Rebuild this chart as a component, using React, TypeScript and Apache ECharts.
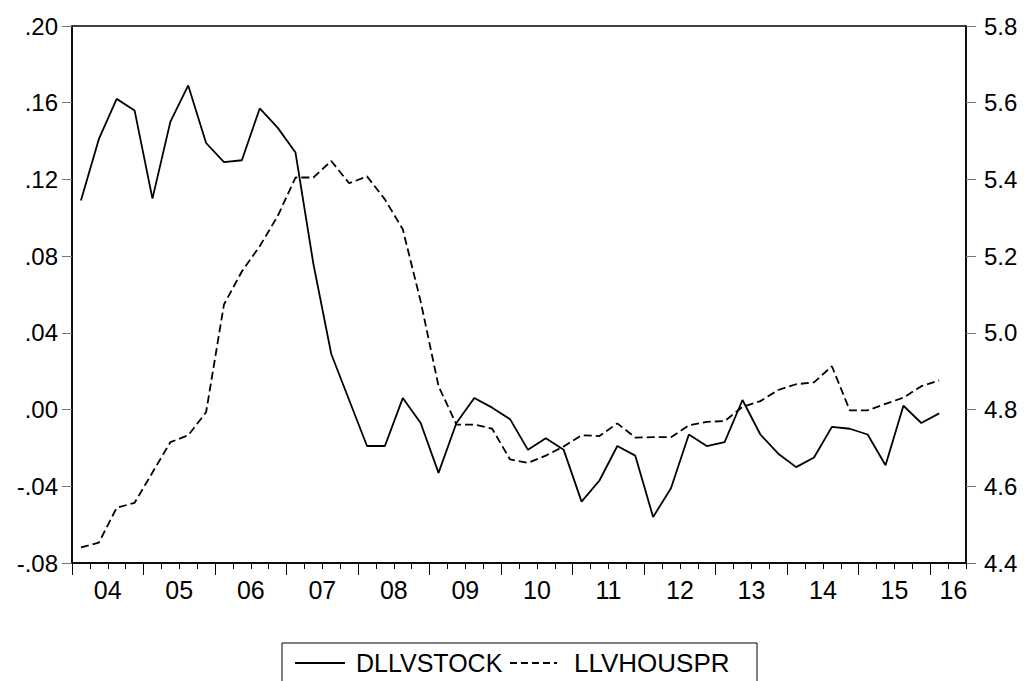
import React, { useEffect, useRef } from "react";
import * as echarts from "echarts";

// Quarterly observations 2004Q1 .. 2016Q1 (49 quarters), axis spans 2004Q1 .. 2016Q2 (50 slots)
const stockValues: number[] = [
  0.109, 0.141, 0.162, 0.156, 0.110, 0.150, 0.169, 0.139, 0.129, 0.130,
  0.157, 0.147, 0.134, 0.076, 0.029, 0.005, -0.019, -0.019, 0.006, -0.007,
  -0.033, -0.007, 0.006, 0.001, -0.005, -0.021, -0.015, -0.021, -0.048, -0.037,
  -0.019, -0.024, -0.056, -0.041, -0.013, -0.019, -0.017, 0.005, -0.013, -0.023,
  -0.030, -0.025, -0.009, -0.010, -0.013, -0.029, 0.002, -0.007, -0.002,
];

const housValues: number[] = [
  4.441, 4.453, 4.544, 4.557, 4.636, 4.715, 4.733, 4.793, 5.074, 5.160,
  5.226, 5.304, 5.405, 5.405, 5.448, 5.390, 5.408, 5.348, 5.270, 5.082,
  4.861, 4.761, 4.761, 4.750, 4.670, 4.661, 4.680, 4.704, 4.733, 4.731,
  4.764, 4.727, 4.728, 4.728, 4.759, 4.768, 4.770, 4.807, 4.822, 4.851,
  4.866, 4.871, 4.913, 4.798, 4.798, 4.815, 4.831, 4.861, 4.876,
];

const yearLabels: string[] = ["04", "05", "06", "07", "08", "09", "10", "11", "12", "13", "14", "15", "16"];
const seriesNames: string[] = ["DLLVSTOCK", "LLVHOUSPR"];

const QUARTER_SLOTS = 50;
const FONT = "'Liberation Sans', Arial, Helvetica, sans-serif";

export default function App() {
  const ref = useRef<HTMLDivElement>(null);

  useEffect(() => {
    if (!ref.current) return;
    const chart = echarts.init(ref.current, undefined, { renderer: "svg" });

    const quarterTicks: number[] = [];
    for (let i = 0; i <= QUARTER_SLOTS; i++) quarterTicks.push(i);
    const yearTicks: number[] = [];
    for (let i = 0; i < QUARTER_SLOTS; i += 4) yearTicks.push(i);
    // label positions: centre of each year, last year (partial) pushed inside the frame
    const labelPos: number[] = yearLabels.map((_, k) => (k === yearLabels.length - 1 ? 49.3 : 4 * k + 2));

    const stockData = stockValues.map((v, i) => [i + 0.5, v]);
    const housData = housValues.map((v, i) => [i + 0.5, v]);

    const leftFmt = (v: number) => {
      const s = Math.abs(v).toFixed(2).replace(/^0/, "");
      return v < -1e-9 ? "-" + s : s;
    };

    const axisLineStyle = { color: "#000", width: 1.5 };

    chart.setOption({
      animation: false,
      backgroundColor: "#fff",
      textStyle: { fontFamily: FONT },
      grid: {
        left: 72,
        right: 60,
        top: 26,
        bottom: 118,
        show: true,
        borderColor: "#000",
        borderWidth: 1.5,
        backgroundColor: "transparent",
      },
      xAxis: [
        {
          type: "value",
          min: 0,
          max: QUARTER_SLOTS,
          position: "bottom",
          axisLine: { show: true, onZero: false, lineStyle: axisLineStyle },
          axisTick: { show: true, customValues: quarterTicks, length: 6, lineStyle: { color: "#000", width: 1 } },
          axisLabel: {
            show: true,
            customValues: labelPos,
            formatter: (v: number) => yearLabels[Math.min(yearLabels.length - 1, Math.floor(v / 4))],
            fontSize: 25,
            color: "#000",
            margin: 14,
            fontFamily: FONT,
          },
          splitLine: { show: false },
        },
        {
          type: "value",
          min: 0,
          max: QUARTER_SLOTS,
          position: "bottom",
          axisLine: { show: false, onZero: false },
          axisTick: { show: true, customValues: yearTicks, length: 12, lineStyle: { color: "#000", width: 1 } },
          axisLabel: { show: false },
          splitLine: { show: false },
        },
      ],
      yAxis: [
        {
          type: "value",
          position: "left",
          min: -0.08,
          max: 0.2,
          interval: 0.04,
          axisLine: { show: true, onZero: false, lineStyle: axisLineStyle },
          axisTick: { show: true, length: 10, lineStyle: { color: "#777", width: 1 } },
          axisLabel: { formatter: leftFmt, fontSize: 24, color: "#000", margin: 14, fontFamily: FONT },
          splitLine: { show: false },
        },
        {
          type: "value",
          position: "right",
          min: 4.4,
          max: 5.8,
          interval: 0.2,
          axisLine: { show: true, onZero: false, lineStyle: axisLineStyle },
          axisTick: { show: true, length: 10, lineStyle: { color: "#777", width: 1 } },
          axisLabel: { formatter: (v: number) => v.toFixed(1), fontSize: 24, color: "#000", margin: 18, fontFamily: FONT },
          splitLine: { show: false },
        },
      ],
      series: [
        {
          name: seriesNames[0],
          type: "line",
          xAxisIndex: 0,
          yAxisIndex: 0,
          data: stockData,
          symbol: "none",
          lineStyle: { color: "#000", width: 1.8 },
        },
        {
          name: seriesNames[1],
          type: "line",
          xAxisIndex: 0,
          yAxisIndex: 1,
          data: housData,
          symbol: "none",
          lineStyle: { color: "#000", width: 1.8, type: [8, 4] },
        },
      ],
      graphic: [
        {
          type: "rect",
          shape: { x: 282, y: 643, width: 475, height: 80 },
          style: { fill: "none", stroke: "#000", lineWidth: 1 },
          silent: true,
        },
        {
          type: "line",
          shape: { x1: 295, y1: 663, x2: 345, y2: 663 },
          style: { stroke: "#000", lineWidth: 1.8 },
          silent: true,
        },
        {
          type: "text",
          x: 356,
          y: 663,
          style: { text: seriesNames[0], fontSize: 25, fontFamily: FONT, fill: "#000", verticalAlign: "middle", align: "left" },
          silent: true,
        },
        {
          type: "line",
          shape: { x1: 510, y1: 663, x2: 557, y2: 663 },
          style: { stroke: "#000", lineWidth: 1.8, lineDash: [7, 4] },
          silent: true,
        },
        {
          type: "text",
          x: 574,
          y: 663,
          style: { text: seriesNames[1], fontSize: 26, fontFamily: FONT, fill: "#000", verticalAlign: "middle", align: "left" },
          silent: true,
        },
      ],
    });

    return () => chart.dispose();
  }, []);

  return (
    <div
      ref={ref}
      style={{ position: "fixed", left: 0, top: 0, width: 1026, height: 681, background: "#fff" }}
    />
  );
}
